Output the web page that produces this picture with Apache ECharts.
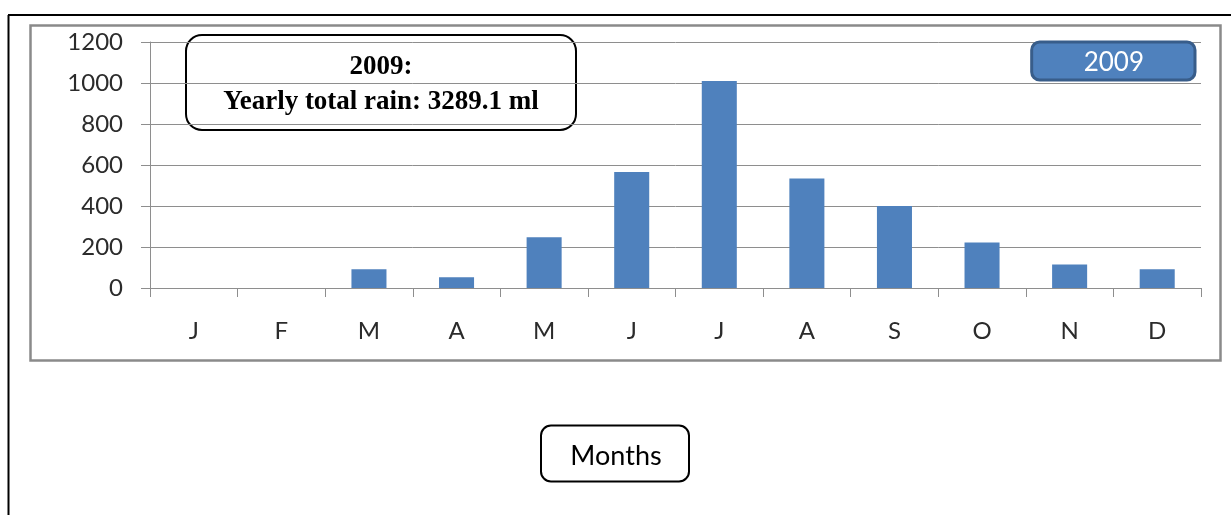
<!DOCTYPE html>
<html>
<head>
<meta charset="utf-8">
<title>2009 rainfall by month</title>
<script src="https://cdn.jsdelivr.net/npm/echarts@6/dist/echarts.min.js"></script>
<style>
  html, body { margin: 0; padding: 0; background: #ffffff; }
  #chart { width: 1231px; height: 515px; }
</style>
</head>
<body>
<div id="chart"></div>
<script>
// Monthly rainfall, 2009
const months = ['J', 'F', 'M', 'A', 'M', 'J', 'J', 'A', 'S', 'O', 'N', 'D'];
const rainfall2009 = [0, 0, 91, 52, 247, 566, 1010, 534, 400, 222, 115, 91];
const seriesName = '2009';
const yAxisMin = 0;
const yAxisMax = 1200;
const yAxisStep = 200;
const noteLines = ['2009:', 'Yearly total rain: 3289.1 ml'];
const xAxisTitle = 'Months';

const sansFont = 'Lato, "Open Sans", sans-serif';
const gridGray = '#8e8e8e';
const barBlue = '#4f81bd';

const chart = echarts.init(document.getElementById('chart'), null, { renderer: 'canvas' });

chart.setOption({
  animation: false,
  backgroundColor: '#ffffff',
  grid: { left: 150, right: 30, top: 42, bottom: 227, containLabel: false },
  legend: {
    data: [seriesName],
    right: 36,
    top: 42,
    icon: 'none',
    itemWidth: 0,
    itemHeight: 0,
    backgroundColor: barBlue,
    borderColor: '#385d8a',
    borderWidth: 3,
    borderRadius: 8,
    padding: [6, 51, 3, 47],
    textStyle: { color: '#ffffff', fontFamily: sansFont, fontSize: 26, lineHeight: 29 }
  },
  xAxis: {
    type: 'category',
    data: months,
    boundaryGap: true,
    axisLine: { show: true, lineStyle: { color: gridGray, width: 1 } },
    axisTick: { show: true, alignWithLabel: false, length: 9, lineStyle: { color: gridGray } },
    axisLabel: { color: '#2b2b2b', fontFamily: sansFont, fontSize: 24, margin: 31, interval: 0 },
    splitLine: { show: false }
  },
  yAxis: {
    type: 'value',
    min: yAxisMin,
    max: yAxisMax,
    interval: yAxisStep,
    axisLine: { show: true, lineStyle: { color: gridGray, width: 1 } },
    axisTick: { show: true, length: 9, lineStyle: { color: gridGray } },
    axisLabel: { color: '#2b2b2b', fontFamily: sansFont, fontSize: 24, margin: 27,
      formatter: (v) => String(v) },
    splitLine: { show: true, lineStyle: { color: gridGray, width: 1 } }
  },
  series: [{
    name: seriesName,
    type: 'bar',
    data: rainfall2009,
    barWidth: '40%',
    itemStyle: { color: barBlue }
  }],
  graphic: [
    // page frame edges
    { type: 'line', silent: true, z: 0, shape: { x1: 8.5, y1: 15, x2: 8.5, y2: 515 },
      style: { stroke: '#000000', lineWidth: 2 } },
    { type: 'line', silent: true, z: 0, shape: { x1: 8, y1: 15, x2: 1231, y2: 15 },
      style: { stroke: '#000000', lineWidth: 2 } },
    // chart area border
    { type: 'rect', silent: true, z: 0, shape: { x: 30.5, y: 25.5, width: 1190, height: 335 },
      style: { fill: 'none', stroke: '#8a8a8a', lineWidth: 2.5 } },
    // yearly total note
    { type: 'group', z: 100, children: [
      { type: 'rect', shape: { x: 186, y: 35, width: 390, height: 95, r: 16 },
        style: { fill: '#ffffff', stroke: '#000000', lineWidth: 2 } },
      { type: 'text', style: { x: 381, y: 67, text: noteLines[0], align: 'center', verticalAlign: 'middle',
          font: 'bold 27px "Liberation Serif", "Times New Roman", serif', fill: '#000000' } },
      { type: 'text', style: { x: 381, y: 102, text: noteLines[1], align: 'center', verticalAlign: 'middle',
          font: 'bold 27px "Liberation Serif", "Times New Roman", serif', fill: '#000000' } }
    ]},
    // x axis title box
    { type: 'group', z: 100, children: [
      { type: 'rect', shape: { x: 541, y: 425.5, width: 148, height: 56, r: 10 },
        style: { fill: '#ffffff', stroke: '#000000', lineWidth: 2 } },
      { type: 'text', style: { x: 616, y: 456, text: xAxisTitle, align: 'center', verticalAlign: 'middle',
          font: '27px Lato, "Open Sans", sans-serif', fill: '#000000' } }
    ]}
  ]
});
</script>
</body>
</html>
